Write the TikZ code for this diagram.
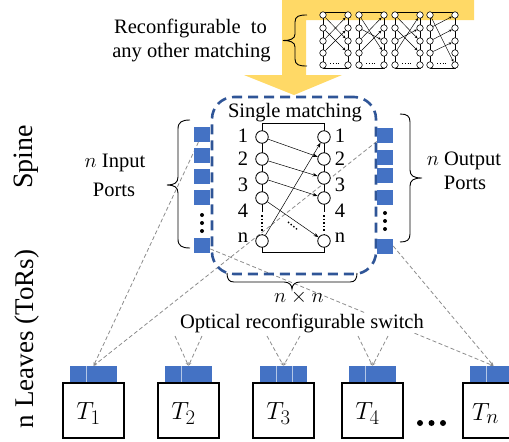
\documentclass[tikz,border=0pt]{standalone}
\usepackage{fontspec}
\setmainfont{Liberation Serif}
\usetikzlibrary{arrows.meta,calc,backgrounds}
\definecolor{gold}{HTML}{FFD966}
\definecolor{portblue}{HTML}{4472C4}
\definecolor{boxblue}{HTML}{2F5597}
\definecolor{lgray}{HTML}{8C8C8C}
\definecolor{divblue}{HTML}{B4C7E7}
\begin{document}
\begin{tikzpicture}[x=1pt,y=-1pt,
  lbl/.style={font=\fontsize{20.5}{24}\selectfont, inner sep=0pt},
  port/.style={fill=portblue, minimum width=16pt, minimum height=15pt, inner sep=0pt},
  mc/.style={circle, draw, fill=white, minimum size=12.5pt, inner sep=0pt, line width=0.8pt},
  tc/.style={circle, draw, fill=white, minimum size=6.5pt, inner sep=0pt, line width=0.6pt},
  gl/.style={draw=lgray, dash pattern=on 4pt off 2.5pt, line width=0.8pt},
  ga/.style={gl, -{Stealth[length=3.5pt,width=3pt]}},
  marr/.style={-{Stealth[length=5pt,width=3.5pt]}, line width=0.5pt},
  sarr/.style={-{Stealth[length=3pt,width=2.5pt]}, line width=0.45pt},
  brk/.style={line width=0.9pt},
  tbox/.style={draw, line width=1.3pt, minimum width=61pt, minimum height=55pt, inner sep=0pt},
  tport/.style={fill=portblue, minimum width=47pt, minimum height=16pt, inner sep=0pt},
  tlab/.style={font=\fontsize{32}{34}\selectfont, inner sep=0pt}
]
\useasboundingbox (0,0) rectangle (509,442);
\clip (0,0) rectangle (509,442);

% yellow bent arrow
\fill[gold] (282,0) -- (474,0) -- (474,20) -- (306,20) -- (306,75) -- (342,75) -- (294,95) -- (244,75) -- (282,75) -- cycle;

% small matchings
\foreach \i/\bx/\conns in {1/323/{1/3,2/4,3/1,4/2}, 2/359/{1/4,2/3,3/1,4/2}, 3/395/{1/3,2/4,3/2,4/1}, 4/430/{1/5,2/1,3/2,4/3}} {
  \draw[line width=0.6pt] (\bx,12) rectangle ({\bx+25},68);
  \foreach \k/\yy in {1/15,2/28,3/41,4/53,5/65} {
    \node[tc] (s\i-l\k) at (\bx,\yy) {};
    \node[tc] (s\i-r\k) at ({\bx+25},\yy) {};
  }
  \foreach \l/\r in \conns { \draw[sarr] (s\i-l\l) -- (s\i-r\r); }
  \draw[dotted, line width=0.8pt] ({\bx+7},63) -- ({\bx+18},63);
}

% brace for reconfigurable
\draw[brk] (307,15) .. controls (299,15) and (295,16) .. (295,22) -- (295,34)
  .. controls (295,39) and (290,40.5) .. (283,40.5) .. controls (290,40.5) and (295,42) .. (295,47)
  -- (295,59) .. controls (295,65) and (299,66) .. (307,66);
\node[lbl, anchor=base] (rec1) at (190.5,33) {Reconfigurable\ \ to};
\node[lbl, anchor=base] (rec2) at (191.5,57) {any other matching};

% dashed switch box
\node[draw=boxblue, line width=2.6pt, dash pattern=on 10pt off 6pt, rounded corners=22pt,
      minimum width=164pt, minimum height=177pt, inner sep=0pt] (sw) at (294,185.5) {};
\node[lbl, anchor=base] (single) at (295,117) {Single matching};

% internal matching
\draw[line width=0.8pt] (262,212) -- (262,123) -- (324,123) -- (324,212);
\draw[line width=0.8pt] (262,234) -- (262,252) -- (324,252) -- (324,234);
\draw[line width=1.6pt, dotted] (262,215) -- (262,232);
\draw[line width=1.6pt, dotted] (324,215) -- (324,232);
\foreach \k/\yy in {1/137,2/159,3/178,4/198,5/241} {
  \node[mc] (ml\k) at (262,\yy) {};
  \node[mc] (mr\k) at (324,\yy) {};
}
\draw[marr] (ml1) -- (mr2);
\draw[marr] (ml2) -- (mr3);
\draw[marr] (ml3) -- (mr4);
\draw[marr] (ml4) -- (mr5);
\draw[marr] (ml5) -- (mr1);
\draw[line width=1.4pt, dotted] (288,222) -- (298,230);
\foreach \k/\t/\yb in {1/1/142,2/2/165,3/3/191,4/4/217,5/n/242} {
  \node[lbl, anchor=base] (nl\k) at (243,\yb) {\t};
  \node[lbl, anchor=base] (nr\k) at (340,\yb) {\t};
}

% ports
\foreach \k/\yy in {1/134.5,2/155.5,3/176.5,4/197.5,5/245.5}
  \node[port] (ip\k) at (202,\yy) {};
\foreach \k/\yy in {1/135,2/157,3/175.5,4/197.5,5/246}
  \node[port] (op\k) at (385,\yy) {};
\foreach \yy in {215,223,231} \fill (202,\yy) circle (2pt);
\foreach \yy in {213,221,229} \fill (385,\yy) circle (2pt);

% braces
\draw[brk] (190,120) .. controls (182,120) and (178,122) .. (178,129) -- (178,177)
  .. controls (178,183) and (174,185) .. (167,185) .. controls (174,185) and (178,187) .. (178,193)
  -- (178,239) .. controls (178,246) and (182,248) .. (190,248);
\draw[brk] (400,114) .. controls (407,114) and (410,116) .. (410,122) -- (410,170)
  .. controls (410,176) and (414,178) .. (422,178) .. controls (414,178) and (410,180) .. (410,186)
  -- (410,234) .. controls (410,240) and (407,242) .. (400,242);
\draw[brk] (227,273) .. controls (227,279) and (229,282) .. (234,282) -- (284,282)
  .. controls (289,282) and (292,285) .. (292,289) .. controls (292,285) and (295,282) .. (300,282)
  -- (350,282) .. controls (355,282) and (357,279) .. (357,273);

\node[lbl, anchor=base] (inp1) at (115,167) {$n$ Input};
\node[lbl, anchor=base] (inp2) at (114,196) {Ports};
\node[lbl, anchor=base] (out1) at (464,165) {$n$ Output};
\node[lbl, anchor=base] (out2) at (465,189) {Ports};
\node[lbl, anchor=base] (nxn) at (299,302) {$n\times n$};
\node[lbl, anchor=base, fill=white, inner sep=1pt] (ors) at (302,328) {Optical reconfigurable switch};

% side labels
\node[font=\fontsize{28}{30}\selectfont, rotate=90, inner sep=0pt] (spine) at (26,157) {Spine};
\node[font=\fontsize{27}{30}\selectfont, rotate=90, inner sep=0pt] (leaves) at (27,339) {n Leaves (ToRs)};

% ToRs
\foreach \k/\cx in {1/93.5,2/188.5,3/283.5,4/372.5,5/493.5} {
  \node[tbox] (t\k) at (\cx,410.5) {};
  \node[tport] (tp\k) at (\cx,374) {};
  \draw[divblue, line width=0.6pt] ($(tp\k.north west)+(16,0)$) -- ($(tp\k.south west)+(16,0)$);
}
\draw[divblue, line width=0.6pt] ($(tp3.north west)+(32,0)$) -- ($(tp3.south west)+(32,0)$);
\node[tlab] (l1) at ($(t1)+(-5,3)$) {$T_1$};
\node[tlab] (l2) at ($(t2)+(-5,3)$) {$T_2$};
\node[tlab] (l3) at ($(t3)+(-5,3)$) {$T_3$};
\node[tlab] (l4) at ($(t4)+(-5,3)$) {$T_4$};
\node[tlab] (l5) at ($(t5)+(-8,3)$) {$T_n$};
\foreach \xx in {420,431.5,443} \fill (\xx,423) circle (3pt);

% gray dashed connectors
\coordinate (v2a) at (175,336);
\coordinate (v2b) at (202,336);
\coordinate (v3a) at (267,336);
\coordinate (v3b) at (300,336);
\coordinate (v4a) at (358,336);
\coordinate (v4b) at (388,336);
\begin{scope}[on background layer]
  \draw[ga] (ip1) -- (tp1.north);
  \draw[ga] (op1) -- (tp1.north);
  \draw[ga] (ip5) -- (tp5.north);
  \draw[ga] (op5.east) -- (tp5.north);
  \draw[ga] (v2a) -- (tp2.north);
  \draw[ga] (v2b) -- (tp2.north);
  \draw[ga] (v3a) -- (tp3.north);
  \draw[ga] (v3b) -- (tp3.north);
  \draw[ga] (v4a) -- (tp4.north);
  \draw[ga] (v4b) -- (tp4.north);
\end{scope}
\end{tikzpicture}
\end{document}
